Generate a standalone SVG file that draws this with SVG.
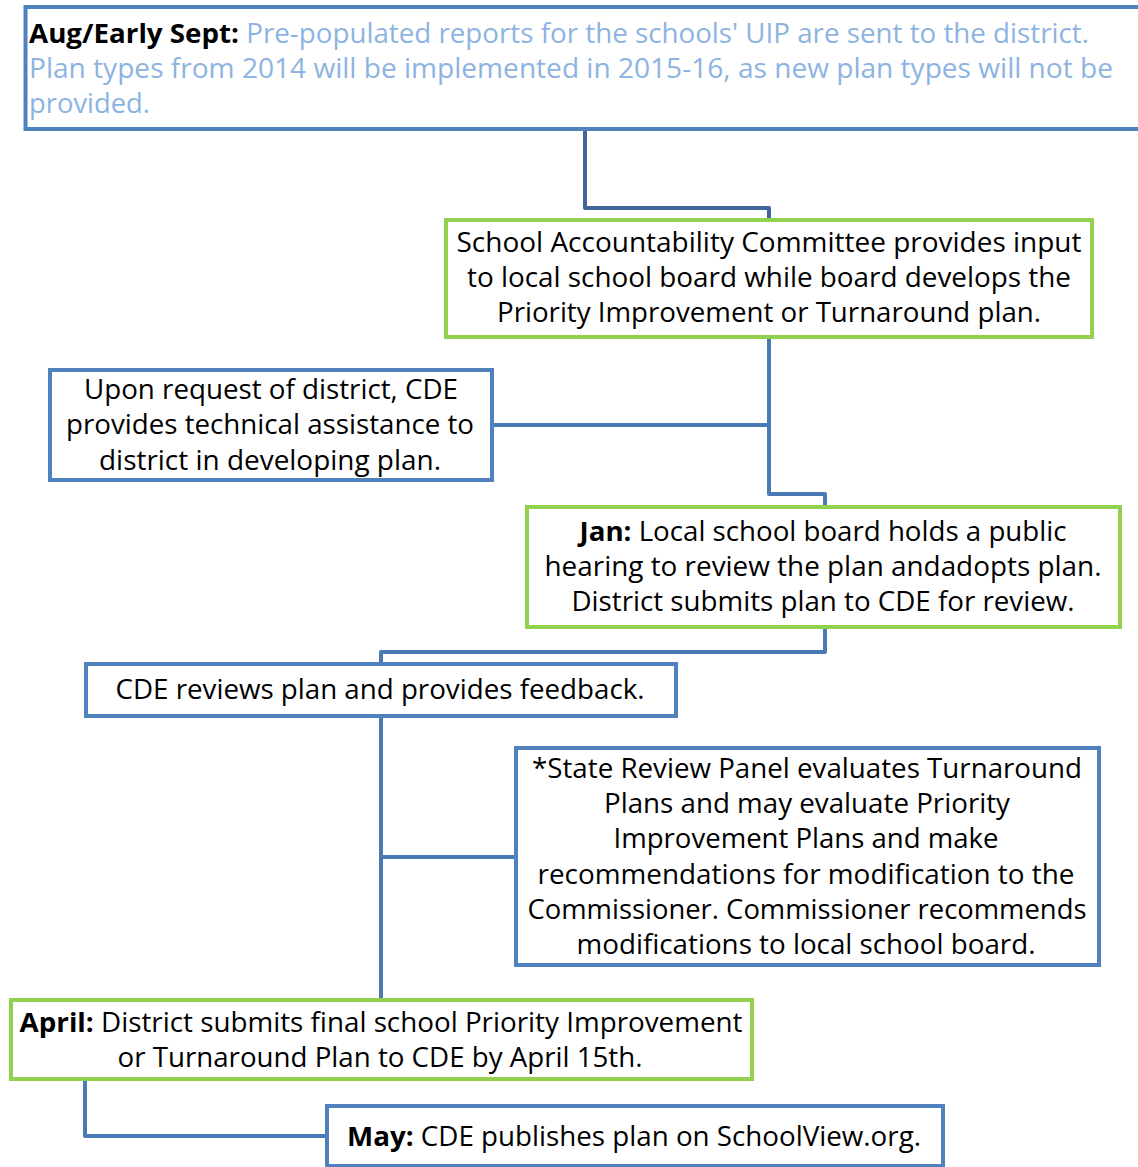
<svg xmlns="http://www.w3.org/2000/svg" width="1138" height="1167" viewBox="0 0 1138 1167">
<style>
.box{fill:#FFFFFF;stroke-width:4}
.blue{stroke:#4F81BD}
.green{stroke:#92D050}
.conn{fill:none;stroke:#4A7AB5;stroke-width:4;stroke-linejoin:round}
.conn0{stroke:#41679A}
text{font-family:"Open Sans","Liberation Sans",sans-serif;font-size:27px;fill:#000000}
.c{text-anchor:middle}
.b{font-weight:bold}
.lb{fill:#8DB3E2}
</style>
<g id="connectors">
<path class="conn conn0" d="M585,129 V208 H769 V220"/>
<path class="conn" d="M769,337 V494 H825 V507"/>
<path class="conn" d="M492,425 H769"/>
<path class="conn" d="M825,627 V652 H381 V664"/>
<path class="conn" d="M381,716 V1000"/>
<path class="conn" d="M381,857 H516"/>
<path class="conn" d="M85,1079 V1136 H327"/>
</g>
<g id="node-aug">
<rect class="box blue" x="25.5" y="7" width="1130" height="122"/>
<text x="29" y="43" textLength="1060" lengthAdjust="spacingAndGlyphs"><tspan class="b">Aug/Early Sept:</tspan><tspan class="lb"> Pre-populated reports for the schools' UIP are sent to the district.</tspan></text>
<text class="lb" x="29" y="78" textLength="1084" lengthAdjust="spacingAndGlyphs">Plan types from 2014 will be implemented in 2015-16, as new plan types will not be</text>
<text class="lb" x="29" y="113" textLength="121" lengthAdjust="spacingAndGlyphs">provided.</text>
</g>
<g id="node-sac">
<rect class="box green" x="446" y="220" width="646" height="117"/>
<text class="c" x="769" y="252" textLength="625" lengthAdjust="spacingAndGlyphs">School Accountability Committee provides input</text>
<text class="c" x="769" y="287" textLength="604" lengthAdjust="spacingAndGlyphs">to local school board while board develops the</text>
<text class="c" x="769" y="322" textLength="544" lengthAdjust="spacingAndGlyphs">Priority Improvement or Turnaround plan.</text>
</g>
<g id="node-upon">
<rect class="box blue" x="50" y="370" width="442" height="110"/>
<text class="c" x="271" y="399" textLength="374" lengthAdjust="spacingAndGlyphs">Upon request of district, CDE</text>
<text class="c" x="270" y="434" textLength="408" lengthAdjust="spacingAndGlyphs">provides technical assistance to</text>
<text class="c" x="270" y="470" textLength="342" lengthAdjust="spacingAndGlyphs">district in developing plan.</text>
</g>
<g id="node-jan">
<rect class="box green" x="527" y="507" width="593" height="120"/>
<text class="c" x="823" y="541" textLength="487" lengthAdjust="spacingAndGlyphs"><tspan class="b">Jan:</tspan> Local school board holds a public</text>
<text class="c" x="823" y="576" textLength="557" lengthAdjust="spacingAndGlyphs">hearing to review the plan andadopts plan.</text>
<text class="c" x="823" y="611" textLength="503" lengthAdjust="spacingAndGlyphs">District submits plan to CDE for review.</text>
</g>
<g id="node-cde-review">
<rect class="box blue" x="86" y="664" width="590" height="52"/>
<text class="c" x="380" y="699" textLength="529" lengthAdjust="spacingAndGlyphs">CDE reviews plan and provides feedback.</text>
</g>
<g id="node-state">
<rect class="box blue" x="516" y="748" width="583" height="217"/>
<text class="c" x="807" y="778" textLength="550" lengthAdjust="spacingAndGlyphs">*State Review Panel evaluates Turnaround</text>
<text class="c" x="807" y="813" textLength="406" lengthAdjust="spacingAndGlyphs">Plans and may evaluate Priority</text>
<text class="c" x="806" y="848" textLength="385" lengthAdjust="spacingAndGlyphs">Improvement Plans and make</text>
<text class="c" x="806" y="884" textLength="537" lengthAdjust="spacingAndGlyphs">recommendations for modification to the</text>
<text class="c" x="807" y="919" textLength="559" lengthAdjust="spacingAndGlyphs">Commissioner. Commissioner recommends</text>
<text class="c" x="806" y="954" textLength="459" lengthAdjust="spacingAndGlyphs">modifications to local school board.</text>
</g>
<g id="node-april">
<rect class="box green" x="11" y="1000" width="741" height="79"/>
<text class="c" x="381" y="1032" textLength="723" lengthAdjust="spacingAndGlyphs"><tspan class="b">April:</tspan> District submits final school Priority Improvement</text>
<text class="c" x="380" y="1067" textLength="525" lengthAdjust="spacingAndGlyphs">or Turnaround Plan to CDE by April 15th.</text>
</g>
<g id="node-may">
<rect class="box blue" x="327" y="1106" width="616" height="60"/>
<text class="c" x="634" y="1146" textLength="574" lengthAdjust="spacingAndGlyphs"><tspan class="b">May:</tspan> CDE publishes plan on SchoolView.org.</text>
</g>
</svg>
